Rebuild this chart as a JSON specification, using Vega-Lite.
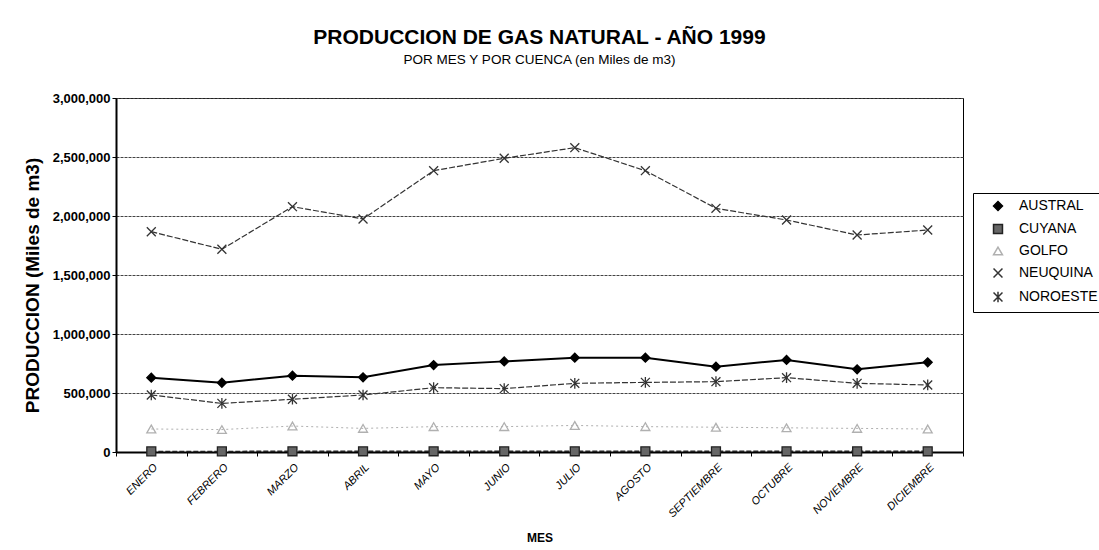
{
  "$schema": "https://vega.github.io/schema/vega-lite/v6.json",
  "width": 847,
  "height": 354,
  "autosize": {"type": "none"},
  "padding": {"left": 116, "top": 98, "right": 136, "bottom": 98},
  "background": "white",
  "config": {
    "font": "Liberation Sans",
    "view": {"stroke": "black", "strokeWidth": 1}
  },
  "title": {
    "text": "PRODUCCION DE GAS NATURAL - AÑO 1999",
    "subtitle": "POR MES Y POR CUENCA (en Miles de m3)",
    "fontSize": 21,
    "fontWeight": "bold",
    "color": "black",
    "subtitleFontSize": 13.5,
    "subtitleColor": "black",
    "subtitlePadding": 5,
    "anchor": "middle",
    "offset": 26
  },
  "data": {
    "values": [
      {"mes": "ENERO", "cuenca": "AUSTRAL", "valor": 630000},
      {"mes": "FEBRERO", "cuenca": "AUSTRAL", "valor": 587000},
      {"mes": "MARZO", "cuenca": "AUSTRAL", "valor": 647000},
      {"mes": "ABRIL", "cuenca": "AUSTRAL", "valor": 633000},
      {"mes": "MAYO", "cuenca": "AUSTRAL", "valor": 737000},
      {"mes": "JUNIO", "cuenca": "AUSTRAL", "valor": 768000},
      {"mes": "JULIO", "cuenca": "AUSTRAL", "valor": 799000},
      {"mes": "AGOSTO", "cuenca": "AUSTRAL", "valor": 799000},
      {"mes": "SEPTIEMBRE", "cuenca": "AUSTRAL", "valor": 723000},
      {"mes": "OCTUBRE", "cuenca": "AUSTRAL", "valor": 780000},
      {"mes": "NOVIEMBRE", "cuenca": "AUSTRAL", "valor": 701000},
      {"mes": "DICIEMBRE", "cuenca": "AUSTRAL", "valor": 760000},
      {"mes": "ENERO", "cuenca": "CUYANA", "valor": 5000},
      {"mes": "FEBRERO", "cuenca": "CUYANA", "valor": 5000},
      {"mes": "MARZO", "cuenca": "CUYANA", "valor": 6000},
      {"mes": "ABRIL", "cuenca": "CUYANA", "valor": 6000},
      {"mes": "MAYO", "cuenca": "CUYANA", "valor": 6000},
      {"mes": "JUNIO", "cuenca": "CUYANA", "valor": 6000},
      {"mes": "JULIO", "cuenca": "CUYANA", "valor": 6000},
      {"mes": "AGOSTO", "cuenca": "CUYANA", "valor": 6000},
      {"mes": "SEPTIEMBRE", "cuenca": "CUYANA", "valor": 6000},
      {"mes": "OCTUBRE", "cuenca": "CUYANA", "valor": 6000},
      {"mes": "NOVIEMBRE", "cuenca": "CUYANA", "valor": 6000},
      {"mes": "DICIEMBRE", "cuenca": "CUYANA", "valor": 6000},
      {"mes": "ENERO", "cuenca": "GOLFO", "valor": 195000},
      {"mes": "FEBRERO", "cuenca": "GOLFO", "valor": 190000},
      {"mes": "MARZO", "cuenca": "GOLFO", "valor": 220000},
      {"mes": "ABRIL", "cuenca": "GOLFO", "valor": 200000},
      {"mes": "MAYO", "cuenca": "GOLFO", "valor": 215000},
      {"mes": "JUNIO", "cuenca": "GOLFO", "valor": 215000},
      {"mes": "JULIO", "cuenca": "GOLFO", "valor": 225000},
      {"mes": "AGOSTO", "cuenca": "GOLFO", "valor": 215000},
      {"mes": "SEPTIEMBRE", "cuenca": "GOLFO", "valor": 210000},
      {"mes": "OCTUBRE", "cuenca": "GOLFO", "valor": 205000},
      {"mes": "NOVIEMBRE", "cuenca": "GOLFO", "valor": 200000},
      {"mes": "DICIEMBRE", "cuenca": "GOLFO", "valor": 195000},
      {"mes": "ENERO", "cuenca": "NEUQUINA", "valor": 1867000},
      {"mes": "FEBRERO", "cuenca": "NEUQUINA", "valor": 1718000},
      {"mes": "MARZO", "cuenca": "NEUQUINA", "valor": 2079000},
      {"mes": "ABRIL", "cuenca": "NEUQUINA", "valor": 1975000},
      {"mes": "MAYO", "cuenca": "NEUQUINA", "valor": 2384000},
      {"mes": "JUNIO", "cuenca": "NEUQUINA", "valor": 2489000},
      {"mes": "JULIO", "cuenca": "NEUQUINA", "valor": 2579000},
      {"mes": "AGOSTO", "cuenca": "NEUQUINA", "valor": 2384000},
      {"mes": "SEPTIEMBRE", "cuenca": "NEUQUINA", "valor": 2065000},
      {"mes": "OCTUBRE", "cuenca": "NEUQUINA", "valor": 1966000},
      {"mes": "NOVIEMBRE", "cuenca": "NEUQUINA", "valor": 1839000},
      {"mes": "DICIEMBRE", "cuenca": "NEUQUINA", "valor": 1881000},
      {"mes": "ENERO", "cuenca": "NOROESTE", "valor": 483000},
      {"mes": "FEBRERO", "cuenca": "NOROESTE", "valor": 412000},
      {"mes": "MARZO", "cuenca": "NOROESTE", "valor": 447000},
      {"mes": "ABRIL", "cuenca": "NOROESTE", "valor": 483000},
      {"mes": "MAYO", "cuenca": "NOROESTE", "valor": 545000},
      {"mes": "JUNIO", "cuenca": "NOROESTE", "valor": 537000},
      {"mes": "JULIO", "cuenca": "NOROESTE", "valor": 582000},
      {"mes": "AGOSTO", "cuenca": "NOROESTE", "valor": 590000},
      {"mes": "SEPTIEMBRE", "cuenca": "NOROESTE", "valor": 596000},
      {"mes": "OCTUBRE", "cuenca": "NOROESTE", "valor": 630000},
      {"mes": "NOVIEMBRE", "cuenca": "NOROESTE", "valor": 582000},
      {"mes": "DICIEMBRE", "cuenca": "NOROESTE", "valor": 568000}
    ]
  },
  "encoding": {
    "x": {
      "field": "mes",
      "type": "ordinal",
      "sort": ["ENERO", "FEBRERO", "MARZO", "ABRIL", "MAYO", "JUNIO", "JULIO", "AGOSTO", "SEPTIEMBRE", "OCTUBRE", "NOVIEMBRE", "DICIEMBRE"],
      "scale": {"type": "band", "paddingInner": 0, "paddingOuter": 0},
      "axis": {
        "title": "MES",
        "titleFontSize": 12,
        "titleFontWeight": "bold",
        "titleColor": "black",
        "titleY": 80,
        "titleBaseline": "top",
        "labelAngle": -45,
        "labelFontSize": 11,
        "labelFontStyle": "italic",
        "labelColor": "black",
        "labelPadding": 5,
        "tickBand": "extent",
        "tickSize": 4,
        "tickColor": "black",
        "domainColor": "black",
        "domainWidth": 2,
        "grid": false
      }
    },
    "y": {
      "field": "valor",
      "type": "quantitative",
      "scale": {"domain": [0, 3000000], "nice": false},
      "axis": {
        "values": [0, 500000, 1000000, 1500000, 2000000, 2500000, 3000000],
        "format": ",d",
        "title": "PRODUCCION (Miles de m3)",
        "titleFontSize": 19,
        "titleFontWeight": "bold",
        "titleColor": "black",
        "titleX": -74,
        "titleY": 187,
        "titleBaseline": "bottom",
        "labelFontSize": 13,
        "labelFontWeight": "bold",
        "labelColor": "black",
        "labelPadding": 2,
        "tickSize": 4,
        "tickColor": "black",
        "domainColor": "black",
        "domainWidth": 2,
        "grid": true,
        "gridColor": "#444444",
        "gridDash": [3, 1],
        "gridWidth": 1
      }
    }
  },
  "layer": [
    {
      "transform": [{"filter": "datum.cuenca === 'AUSTRAL'"}],
      "mark": {"type": "line", "color": "#000000", "strokeWidth": 2},
      "encoding": {}
    },
    {
      "transform": [{"filter": "datum.cuenca === 'CUYANA'"}],
      "mark": {"type": "line", "color": "#222222", "strokeWidth": 1.5, "strokeDash": [5, 2]},
      "encoding": {}
    },
    {
      "transform": [{"filter": "datum.cuenca === 'GOLFO'"}],
      "mark": {"type": "line", "color": "#b0b0b0", "strokeWidth": 1, "strokeDash": [2, 3]},
      "encoding": {}
    },
    {
      "transform": [{"filter": "datum.cuenca === 'NEUQUINA'"}],
      "mark": {"type": "line", "color": "#333333", "strokeWidth": 1.2, "strokeDash": [6, 2]},
      "encoding": {}
    },
    {
      "transform": [{"filter": "datum.cuenca === 'NOROESTE'"}],
      "mark": {"type": "line", "color": "#333333", "strokeWidth": 1.2, "strokeDash": [6, 2]},
      "encoding": {}
    },
    {
      "mark": {"type": "point", "size": 80, "strokeWidth": 1.3, "opacity": 1},
      "encoding": {
        "color": {
          "field": "cuenca",
          "type": "nominal",
          "scale": {"domain": ["AUSTRAL", "CUYANA", "GOLFO", "NEUQUINA", "NOROESTE"], "range": ["#000000", "#222222", "#b0b0b0", "#333333", "#333333"]},
          "legend": {
            "title": null,
            "orient": "none",
            "legendX": 857,
            "legendY": 95,
            "strokeColor": "black",
            "fillColor": "white",
            "padding": 6,
            "rowPadding": 7,
            "labelFontSize": 14,
            "labelColor": "black",
            "symbolSize": 80,
            "symbolOffset": 12,
            "labelOffset": 14
          }
        },
        "shape": {
          "field": "cuenca",
          "type": "nominal",
          "scale": {"domain": ["AUSTRAL", "CUYANA", "GOLFO", "NEUQUINA", "NOROESTE"], "range": ["diamond", "square", "triangle-up", "M-1,-1L1,1M-1,1L1,-1", "M-1,-1L1,1M-1,1L1,-1M0,-1.2L0,1.2"]}
        },
        "fill": {
          "field": "cuenca",
          "type": "nominal",
          "scale": {"domain": ["AUSTRAL", "CUYANA", "GOLFO", "NEUQUINA", "NOROESTE"], "range": ["#000000", "#666666", "transparent", "transparent", "transparent"]}
        }
      }
    }
  ]
}
